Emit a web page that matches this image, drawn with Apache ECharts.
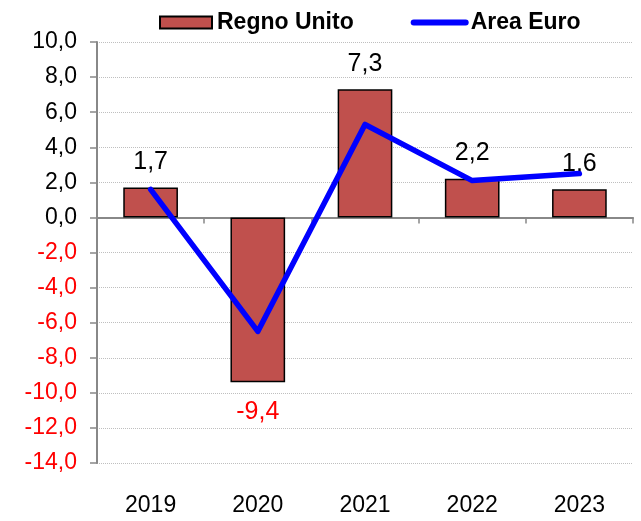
<!DOCTYPE html>
<html>
<head>
<meta charset="utf-8">
<script src="https://cdn.jsdelivr.net/npm/echarts@6/dist/echarts.min.js"></script>
<style>
  html, body { margin: 0; padding: 0; background: #fff; }
  #chart { width: 641px; height: 521px; }
</style>
</head>
<body>
<div id="chart"></div>
<script>
var years = ['2019', '2020', '2021', '2022', '2023'];
var regnoUnito = [1.7, -9.4, 7.3, 2.2, 1.6];
var areaEuro = [1.6, -6.5, 5.3, 2.1, 2.5];

function fmt(v) {
    return Number(v).toFixed(1).replace('.', ',');
}

var chart = echarts.init(document.getElementById('chart'));

var barData = regnoUnito.map(function (v) {
    var neg = v < 0;
    return {
        value: v,
        label: {
            position: neg ? 'bottom' : 'top',
            distance: neg ? 17 : 13,
            color: neg ? '#FF0000' : '#000000'
        }
    };
});

chart.setOption({
    animation: false,
    textStyle: { fontFamily: 'Liberation Sans, Arial, sans-serif' },
    legend: {
        left: 154,
        top: 6,
        itemWidth: 52,
        itemHeight: 12,
        itemGap: 57,
        textStyle: { fontSize: 23, fontWeight: 'bold', color: '#000' },
        data: [
            { name: 'Regno Unito', icon: 'rect' },
            { name: 'Area Euro', itemStyle: { opacity: 0 }, lineStyle: { width: 6, color: '#0000FF', cap: 'round' } }
        ]
    },
    grid: { left: 97, right: 8, top: 42, bottom: 58, containLabel: false },
    xAxis: [
        {
            type: 'category',
            data: years,
            position: 'bottom',
            axisLine: { show: false, onZero: false },
            axisTick: { show: false },
            axisLabel: { fontSize: 23, color: '#000', margin: 31 }
        },
        {
            type: 'category',
            data: years,
            position: 'bottom',
            axisLine: { show: true, onZero: true, lineStyle: { color: '#888888', width: 2 } },
            axisTick: { show: true, length: 6, lineStyle: { color: '#888888', width: 1.5 } },
            axisLabel: { show: false }
        }
    ],
    yAxis: {
        type: 'value',
        min: -14,
        max: 10,
        interval: 2,
        axisLine: { show: true, lineStyle: { color: '#888888', width: 2 } },
        axisTick: { show: true, length: 7, lineStyle: { color: '#888888', width: 1.5 } },
        axisLabel: {
            fontSize: 23,
            margin: 20,
            formatter: function (v) { return fmt(v); },
            color: function (v) { return v < 0 ? '#FF0000' : '#000000'; }
        },
        splitLine: { show: true, lineStyle: { color: '#BFBFBF', type: 'dotted', width: 1 } }
    },
    series: [
        {
            name: 'Regno Unito',
            type: 'bar',
            xAxisIndex: 0,
            barWidth: '51%',
            data: barData,
            itemStyle: { color: '#C0504D', borderColor: '#000000', borderWidth: 1.5 },
            label: {
                show: true,
                fontSize: 25,
                formatter: function (p) { return fmt(p.value); }
            },
            z: 2
        },
        {
            name: 'Area Euro',
            type: 'line',
            xAxisIndex: 0,
            data: areaEuro,
            showSymbol: false,
            symbol: 'none',
            itemStyle: { color: '#0000FF' },
            lineStyle: { color: '#0000FF', width: 5.5, cap: 'round', join: 'round' },
            z: 5
        }
    ]
});
</script>
</body>
</html>
